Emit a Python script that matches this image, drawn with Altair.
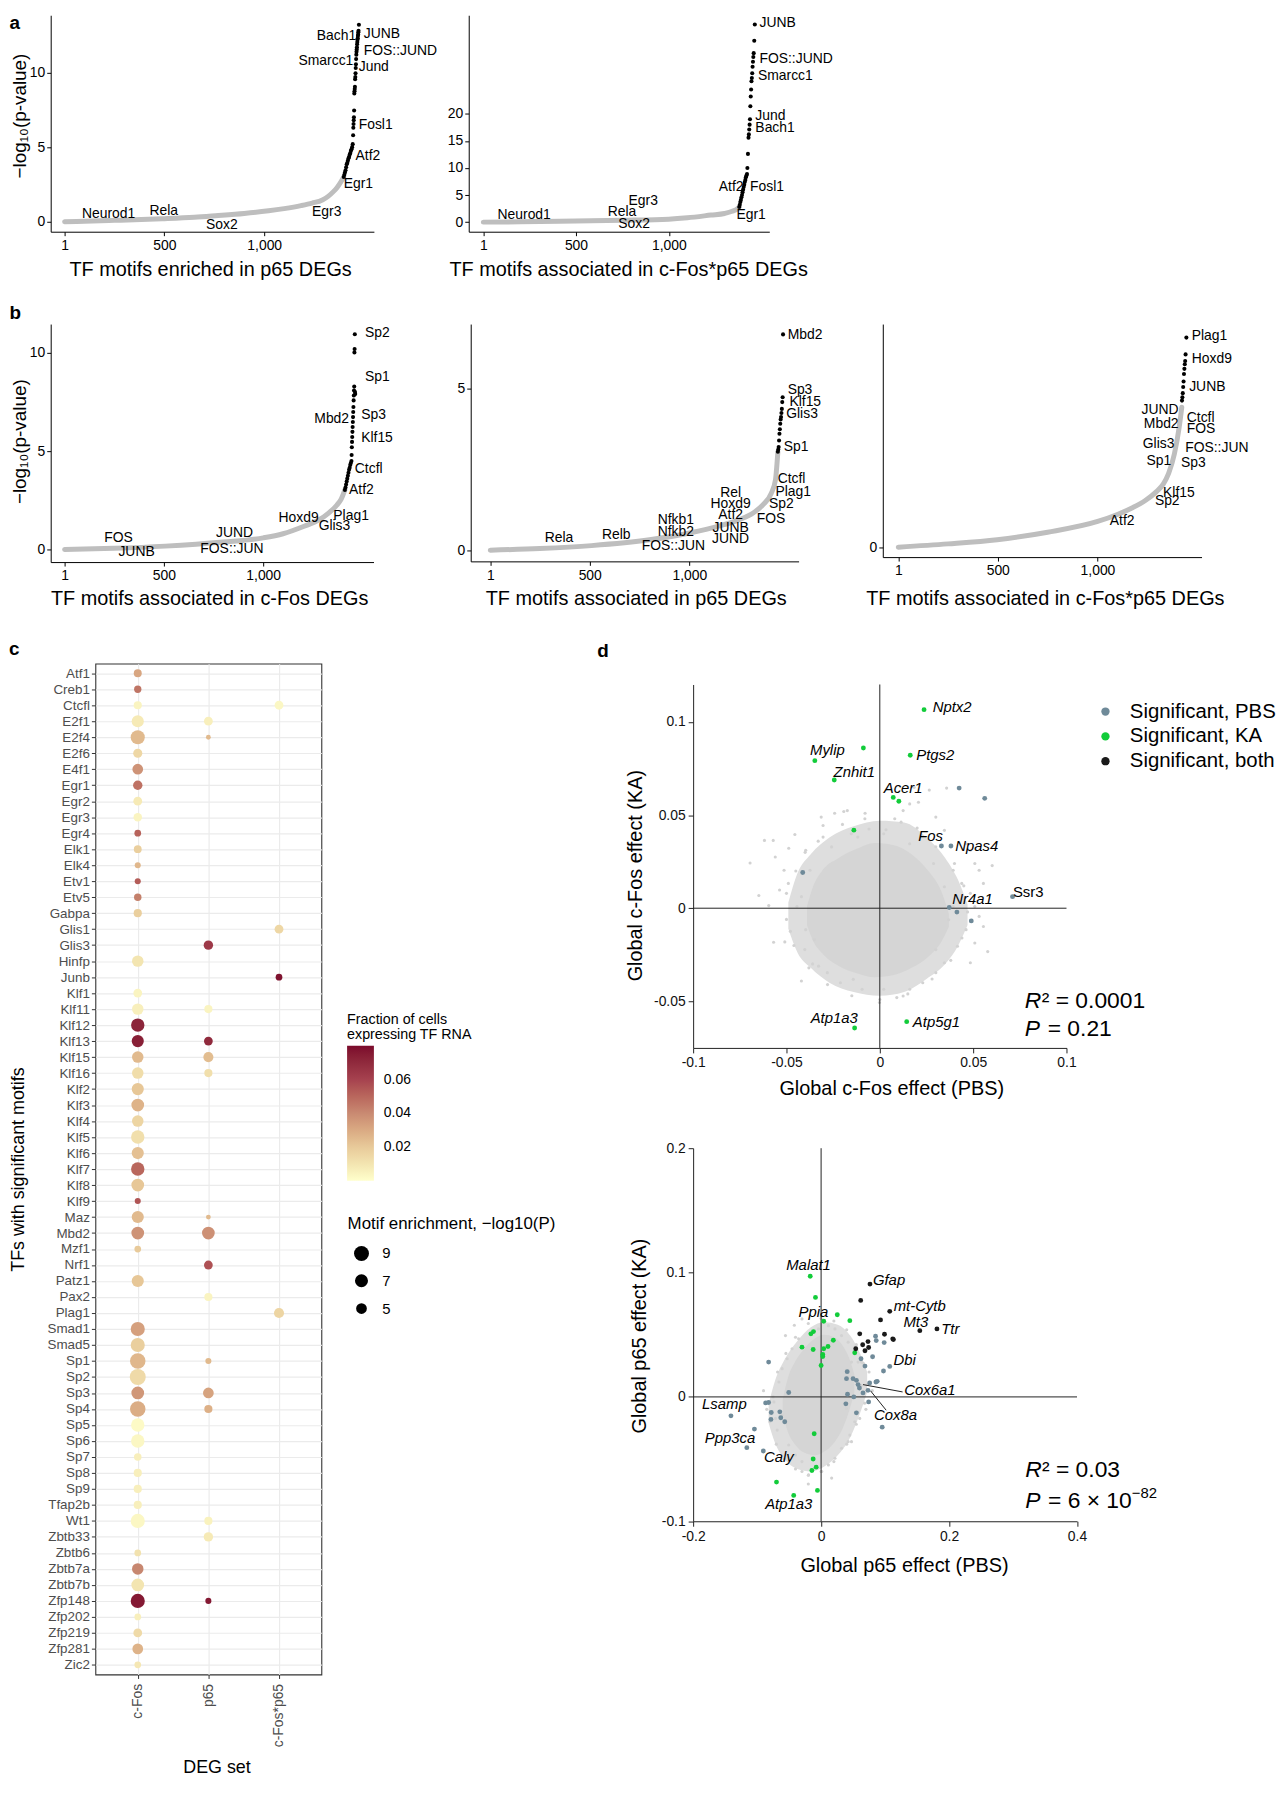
import altair as alt
import pandas as pd

FONT = "Liberation Sans"
BLACK = "#000000"

# ---------------- panel a (left): TF motifs enriched in p65 DEGs ----------------
a1_curve_rank = [1, 100, 250, 489, 650, 756, 900, 1022, 1100, 1184, 1240, 1291, 1320, 1345, 1365, 1385, 1398]
a1_curve_val = [0.0, 0.03, 0.09, 0.2, 0.3, 0.4, 0.55, 0.73, 0.88, 1.08, 1.25, 1.46, 1.7, 2.0, 2.3, 2.7, 3.0]
a1_sig_rank = [1398, 1401, 1404, 1407, 1410, 1413, 1416, 1419, 1422, 1425, 1428, 1431, 1434, 1437, 1440, 1443,
               1445, 1446, 1447, 1448, 1449, 1450, 1451, 1452, 1453, 1454, 1455, 1456, 1457, 1458, 1459, 1460,
               1461, 1462, 1463, 1464, 1465, 1466, 1467, 1468, 1469, 1470, 1471, 1472, 1474]
a1_sig_val = [3.0, 3.15, 3.3, 3.45, 3.65, 3.85, 3.95, 4.1, 4.25, 4.35, 4.5, 4.6, 4.75, 4.85, 5.0, 5.2,
              5.8, 6.3, 6.55, 6.8, 7.0, 7.45, 8.6, 8.75, 8.9, 9.05, 9.55, 9.7, 9.95, 10.3, 10.55, 10.9,
              11.2, 11.4, 11.55, 11.7, 11.9, 12.05, 12.2, 12.3, 12.45, 12.55, 12.7, 12.8, 13.2]
a1_lab = ["Bach1", "JUNB", "FOS::JUND", "Smarcc1", "Jund", "Fosl1", "Atf2", "Egr1", "Egr3", "Neurod1", "Rela", "Sox2"]
a1_lab_rank = [1460, 1498, 1498, 1446, 1473, 1473, 1457, 1398, 1313, 221, 497, 788]
a1_lab_val = [12.44, 12.55, 11.44, 10.78, 10.4, 6.45, 4.41, 2.53, 0.62, 0.53, 0.69, -0.25]
a1_lab_align = ["right", "left", "left", "right", "left", "left", "left", "left", "center", "center", "center", "center"]

# ---------------- panel a (right): c-Fos*p65 DEGs ----------------
a2_curve_rank = [1, 200, 500, 750, 999, 1100, 1227, 1300, 1341, 1370, 1379]
a2_curve_val = [0.0, 0.05, 0.2, 0.35, 0.55, 0.8, 1.3, 1.6, 2.0, 2.5, 2.8]
a2_sig_rank = [1379, 1382, 1385, 1388, 1391, 1394, 1397, 1400, 1403, 1406, 1409, 1412, 1415, 1418, 1421,
               1423, 1426, 1429, 1431, 1433, 1435, 1437, 1439, 1441, 1443, 1445, 1447, 1449, 1451, 1453,
               1455, 1457, 1460, 1463]
a2_sig_val = [2.8, 3.2, 3.7, 4.1, 4.6, 5.0, 5.5, 6.0, 6.5, 6.9, 7.4, 7.8, 8.3, 8.6, 8.9,
              10.0, 12.6, 15.6, 16.2, 17.1, 18.0, 19.0, 21.4, 23.2, 24.5, 26.0, 26.6, 27.5, 28.7, 29.6,
              30.5, 31.2, 33.5, 36.5]
a2_lab = ["JUNB", "FOS::JUND", "Smarcc1", "Jund", "Bach1", "Atf2", "Fosl1", "Egr1", "Egr3", "Rela", "Sox2", "Neurod1"]
a2_lab_rank = [1488, 1488, 1480, 1466, 1466, 1402, 1437, 1364, 862, 748, 813, 221]
a2_lab_val = [36.8, 30.2, 26.9, 19.6, 17.4, 6.46, 6.46, 1.28, 3.84, 1.9, -0.44, 1.28]
a2_lab_align = ["left", "left", "left", "left", "left", "right", "left", "left", "center", "center", "center", "center"]

# ---------------- panel b (left): c-Fos DEGs ----------------
b1_curve_rank = [1, 250, 507, 800, 1000, 1100, 1206, 1280, 1329, 1370, 1391, 1411]
b1_curve_val = [0.0, 0.06, 0.17, 0.38, 0.59, 0.8, 1.18, 1.5, 1.85, 2.25, 2.53, 3.03]
b1_sig_rank = [1411, 1414, 1417, 1420, 1423, 1426, 1429, 1432, 1435, 1438, 1441, 1444,
               1445, 1446, 1447, 1448, 1449, 1450, 1451, 1452, 1453, 1454, 1455, 1456, 1457, 1458,
               1459, 1460, 1461, 1462, 1463]
b1_sig_val = [3.03, 3.15, 3.3, 3.45, 3.6, 3.75, 3.9, 4.05, 4.15, 4.3, 4.4, 4.5,
              4.8, 5.2, 5.47, 5.72, 5.98, 6.23, 6.48, 6.73, 6.99, 7.24, 7.58, 7.83, 8.08, 8.28,
              10.02, 10.19, 10.94, 8.0, 7.9]
b1_lab = ["Sp2", "Sp1", "Sp3", "Mbd2", "Klf15", "Ctcfl", "Atf2", "Hoxd9", "Plag1", "Glis3", "JUND", "FOS::JUN", "FOS", "JUNB"]
b1_lab_rank = [1512, 1512, 1493, 1432, 1493, 1461, 1432, 1279, 1353, 1279, 856, 843, 272, 363]
b1_lab_val = [11.02, 8.79, 6.82, 6.65, 5.69, 4.07, 3.03, 1.58, 1.72, 1.18, 0.84, 0.03, 0.56, -0.12]
b1_lab_align = ["left", "left", "left", "right", "left", "left", "left", "right", "left", "left", "center", "center", "center", "center"]

# ---------------- panel b (middle): p65 DEGs ----------------
b2_curve_rank = [1, 250, 509, 800, 1001, 1150, 1247, 1320, 1370, 1410, 1432, 1444]
b2_curve_val = [0.0, 0.05, 0.14, 0.32, 0.53, 0.75, 0.94, 1.15, 1.41, 1.75, 2.18, 3.05]
b2_sig_rank = [1444, 1446, 1448, 1450, 1452, 1454, 1456, 1458, 1460, 1462, 1464, 1466, 1468, 1470]
b2_sig_val = [3.05, 3.12, 3.2, 3.4, 3.61, 3.75, 3.92, 4.05, 4.13, 4.25, 4.38, 4.59, 4.74, 6.69]
b2_lab = ["Mbd2", "Sp3", "Klf15", "Glis3", "Sp1", "Ctcfl", "Plag1", "Sp2", "FOS", "Rel", "Hoxd9", "Atf2", "JUNB",
          "JUND", "Nfkb1", "Nfkb2", "FOS::JUN", "Rela", "Relb"]
b2_lab_rank = [1493, 1493, 1502, 1486, 1473, 1443, 1432, 1400, 1338, 1207, 1207, 1207, 1207, 1207, 932, 932, 920, 346, 633]
b2_lab_val = [6.67, 4.97, 4.59, 4.21, 3.21, 2.21, 1.80, 1.44, 0.98, 1.77, 1.44, 1.09, 0.69, 0.35, 0.92, 0.56, 0.12, 0.38, 0.48]
b2_lab_align = ["left"] * 9 + ["center"] * 10

# ---------------- panel b (right): c-Fos*p65 DEGs ----------------
b3_curve_rank = [1, 250, 497, 750, 1001, 1100, 1173, 1240, 1296, 1330, 1357, 1386, 1410, 1423]
b3_curve_val = [0.0, 0.07, 0.16, 0.32, 0.55, 0.7, 0.84, 1.0, 1.19, 1.35, 1.58, 2.0, 2.57, 3.0]
b3_sig_rank = [1424, 1426, 1428, 1430, 1432, 1434, 1436, 1438, 1440, 1442, 1446]
b3_sig_val = [3.14, 3.21, 3.3, 3.43, 3.55, 3.71, 3.82, 3.92, 3.99, 4.13, 4.49]
b3_lab = ["Plag1", "Hoxd9", "JUNB", "JUND", "Mbd2", "Ctcfl", "FOS", "Glis3", "FOS::JUN", "Sp1", "Sp3", "Klf15", "Sp2", "Atf2"]
b3_lab_rank = [1473, 1473, 1460, 1407, 1407, 1448, 1448, 1386, 1440, 1370, 1419, 1329, 1288, 1124]
b3_lab_val = [4.53, 4.03, 3.44, 2.93, 2.63, 2.77, 2.53, 2.21, 2.13, 1.84, 1.80, 1.16, 0.98, 0.57]
b3_lab_align = ["left", "left", "left", "right", "right", "left", "left", "right", "left", "right", "left", "left", "left", "center"]

# ---------------- panel c: dot plot ----------------
c_sets = ["c-Fos", "p65", "c-Fos*p65"]
c_tfs = ["Atf1", "Creb1", "Ctcfl", "E2f1", "E2f4", "E2f6", "E4f1", "Egr1", "Egr2", "Egr3", "Egr4", "Elk1", "Elk4",
         "Etv1", "Etv5", "Gabpa", "Glis1", "Glis3", "Hinfp", "Junb", "Klf1", "Klf11", "Klf12", "Klf13", "Klf15",
         "Klf16", "Klf2", "Klf3", "Klf4", "Klf5", "Klf6", "Klf7", "Klf8", "Klf9", "Maz", "Mbd2", "Mzf1", "Nrf1",
         "Patz1", "Pax2", "Plag1", "Smad1", "Smad5", "Sp1", "Sp2", "Sp3", "Sp4", "Sp5", "Sp6", "Sp7", "Sp8", "Sp9",
         "Tfap2b", "Wt1", "Zbtb33", "Zbtb6", "Zbtb7a", "Zbtb7b", "Zfp148", "Zfp202", "Zfp219", "Zfp281", "Zic2"]
cfos_tf = ["Atf1", "Creb1", "Ctcfl", "E2f1", "E2f4", "E2f6", "E4f1", "Egr1", "Egr2", "Egr3", "Egr4", "Elk1", "Elk4",
           "Etv1", "Etv5", "Gabpa", "Hinfp", "Klf1", "Klf11", "Klf12", "Klf13", "Klf15", "Klf16", "Klf2", "Klf3",
           "Klf4", "Klf5", "Klf6", "Klf7", "Klf8", "Klf9", "Maz", "Mbd2", "Mzf1", "Patz1", "Smad1", "Smad5", "Sp1",
           "Sp2", "Sp3", "Sp4", "Sp5", "Sp6", "Sp7", "Sp8", "Sp9", "Tfap2b", "Wt1", "Zbtb6", "Zbtb7a", "Zbtb7b",
           "Zfp148", "Zfp202", "Zfp219", "Zfp281", "Zic2"]
cfos_enr = [3.1, 2.7, 3.2, 6.2, 8.1, 3.8, 5.0, 4.0, 3.6, 3.4, 2.4, 3.0, 2.1, 2.1, 2.8, 3.2,
            5.6,
            3.6, 5.6, 7.4, 6.2, 5.6, 5.6, 6.2, 6.7, 5.6, 7.4, 6.2, 7.4, 6.7, 2.1,
            6.2, 6.7, 2.4, 6.2,
            8.1, 8.1,
            9.6, 10.2, 6.7, 9.6, 7.4, 7.4, 2.8, 3.2, 3.2,
            3.2, 8.1,
            2.4, 5.6, 6.7,
            8.1, 2.4, 3.6, 5.0,
            2.4]
cfos_frac = [0.031, 0.046, 0.004, 0.008, 0.025, 0.015, 0.037, 0.047, 0.008, 0.004, 0.051, 0.018, 0.026, 0.053, 0.043, 0.018,
             0.010,
             0.004, 0.006, 0.072, 0.074, 0.025, 0.013, 0.021, 0.027, 0.016, 0.012, 0.023, 0.050, 0.021, 0.055,
             0.025, 0.037, 0.020, 0.021,
             0.033, 0.018,
             0.026, 0.014, 0.036, 0.029, 0.002, 0.003, 0.006, 0.006, 0.006,
             0.006, 0.003,
             0.011, 0.041, 0.010,
             0.076, 0.006, 0.014, 0.027,
             0.009]
p65_tf = ["E2f1", "E2f4", "Glis3", "Klf11", "Klf13", "Klf15", "Klf16", "Maz", "Mbd2", "Nrf1", "Pax2", "Sp1", "Sp3",
          "Sp4", "Wt1", "Zbtb33", "Zfp148"]
p65_enr = [3.6, 1.6, 4.0, 3.2, 3.6, 4.5, 3.2, 1.6, 6.7, 3.6, 3.2, 2.1, 5.0, 3.2, 3.2, 4.0, 2.1]
p65_frac = [0.006, 0.025, 0.064, 0.004, 0.070, 0.024, 0.012, 0.025, 0.038, 0.056, 0.004, 0.025, 0.032, 0.028, 0.005, 0.008, 0.076]
combo_tf = ["Ctcfl", "Glis1", "Junb", "Plag1"]
combo_enr = [3.6, 3.6, 2.4, 4.5]
combo_frac = [0.003, 0.015, 0.078, 0.016]
frac_stops = [0.0, 0.02, 0.04, 0.06, 0.08]
frac_colors = ["#FFFFCC", "#E8CA9A", "#C98A72", "#A6424F", "#7B0B2C"]

# ---------------- panel d (top): global c-Fos effect ----------------
STATUS = ["Significant, PBS", "Significant, KA", "Significant, both"]
STATUS_COL = ["#6F8A99", "#12CC3A", "#1A1A1A"]
d1_sig_x = [0.0237, -0.0088, -0.0348, 0.0163, -0.0244, 0.0072, 0.0102, -0.0139, -0.0135, 0.0144,
            0.0425, 0.0562, 0.033, 0.0381, -0.0413, 0.0711, 0.0372, 0.0413, 0.049]
d1_sig_y = [0.1066, 0.086, 0.0792, 0.0821, 0.0688, 0.0595, 0.0574, 0.0419, -0.0643, -0.0609,
            0.0645, 0.059, 0.0334, 0.0334, 0.0192, 0.0062, 0.0004, -0.0021, -0.0068]
d1_sig_status = ["Significant, KA"] * 10 + ["Significant, PBS"] * 9
d1_core_x = [-0.039, -0.036, -0.031, -0.022, -0.012, -0.003, 0.007, 0.017, 0.026, 0.033, 0.037]
d1_core_hi = [0.001, 0.011, 0.020, 0.027, 0.032, 0.035, 0.034, 0.029, 0.020, 0.009, -0.003]
d1_core_lo = [-0.009, -0.017, -0.024, -0.031, -0.035, -0.037, -0.036, -0.032, -0.026, -0.018, -0.010]
d1_halo_x = [-0.049, -0.044, -0.037, -0.027, -0.014, 0.0, 0.013, 0.025, 0.035, 0.042, 0.047]
d1_halo_hi = [0.003, 0.019, 0.029, 0.038, 0.044, 0.047, 0.046, 0.038, 0.027, 0.015, 0.002]
d1_halo_lo = [-0.011, -0.024, -0.032, -0.040, -0.045, -0.047, -0.045, -0.038, -0.030, -0.020, -0.009]
d1_bg_x = [-0.0695, -0.0618, -0.0571, -0.056, -0.0648, -0.0595, -0.0569, -0.0509, -0.0488, -0.0455, -0.049, -0.0479,
           -0.042, -0.0402, -0.036, -0.0314, -0.0304, -0.0242, -0.0193, -0.0174, -0.0153, -0.0079, -0.0058, 0.0033,
           0.0114, 0.0125, 0.016, 0.0207, 0.03, 0.0346, 0.0358, 0.0265, 0.0184, 0.0462, 0.0485, 0.0509, 0.0532,
           0.0555, 0.0602, 0.0485, 0.0509, 0.0532, 0.0555, 0.0509, 0.0578, 0.0485, 0.0416, 0.0462, 0.0346, 0.03,
           0.023, 0.016, 0.0125, 0.0091, -0.0002, -0.0095, -0.0142, -0.0211, -0.0281, -0.0328, -0.0397, -0.0444,
           -0.0537, -0.0513, -0.0397, -0.0304, 0.0393, 0.0439, 0.0393, 0.0369, 0.03, 0.0021, -0.0351, -0.042,
           -0.0374, -0.0258, -0.0118, 0.0021, 0.016, 0.0288, 0.0346,
           -0.045, -0.04, -0.033, -0.02, -0.008, 0.008, 0.02, 0.03, 0.04, 0.045, 0.047, 0.044, 0.038, 0.028,
           0.015, 0.0, -0.015, -0.028, -0.038, -0.046, -0.05, -0.05]
d1_bg_y = [0.0243, 0.0364, 0.0364, 0.0275, 0.0068, 0.0014, -0.0183, -0.0181, 0.0322, 0.0396, 0.0133, -0.0124,
           -0.0391, -0.0222, -0.0299, 0.0489, 0.0444, 0.051, 0.0519, 0.0524, 0.04, 0.051, 0.0425, 0.0421,
           0.0462, 0.0524, 0.056, 0.0569, 0.0489, 0.0418, 0.0645, 0.0634, 0.0649, 0.0346, 0.0311, 0.024, 0.0204,
           0.0133, 0.0229, 0.008, 0.0009, -0.0044, -0.0098, -0.0187, -0.0233, -0.0293, -0.0204, -0.0115, -0.0293, -0.0346,
           -0.04, -0.0435, -0.0471, -0.048, -0.0506, -0.0435, -0.0382, -0.04, -0.0346, -0.0311, -0.0115, 0.0009,
           0.0098, 0.0204, 0.0311, 0.0382, 0.0204, 0.0133, 0.0009, -0.0062, -0.0222, -0.0435, -0.0169, 0.0062,
           0.0204, 0.0329, 0.0382, 0.04, 0.0346, 0.024, 0.0115,
           0.02, 0.03, 0.036, 0.045, 0.048, 0.048, 0.043, 0.033, 0.024, 0.012, -0.002, -0.016, -0.028, -0.038,
           -0.046, -0.049, -0.047, -0.041, -0.032, -0.02, -0.006, 0.008]
d1_lab = ["Nptx2", "Mylip", "Ptgs2", "Znhit1", "Acer1", "Fos", "Npas4", "Nr4a1", "Atp1a3", "Atp5g1"]
d1_lab_x = [0.0283, -0.0281, 0.0195, -0.0137, 0.0125, 0.0272, 0.0404, 0.0388, -0.0244, 0.0177]
d1_lab_y = [0.1079, 0.0848, 0.0821, 0.0732, 0.0643, 0.0387, 0.0334, 0.0048, -0.0592, -0.0609]
d1_lab_align = ["left", "center", "left", "center", "center", "center", "left", "left", "center", "left"]
d1_plain_lab = ["Ssr3"]
d1_plain_x = [0.0713]
d1_plain_y = [0.0085]
d1_stat_text = ["R", "\u00b2 = 0.0001", "P", "= 0.21"]
d1_stat_x = [0.0777, 0.0777, 0.0777, 0.0777]
d1_stat_y = [-0.0537, -0.0537, -0.0686, -0.0686]

# ---------------- panel d (bottom): global p65 effect ----------------
d2_sig_x = ([0.0851, 0.0862, 0.0986, 0.0805, 0.0624, 0.0686, 0.1073, 0.0975, 0.0877, 0.0857, 0.0759, 0.0408, 0.0397,
             0.05, 0.0552, 0.0578, 0.0599, 0.0655, 0.0733, 0.0413, 0.0511, 0.0387, 0.0552, 0.0743, 0.0955, -0.082,
             -0.0506, -0.0867, -0.082, -0.0779, -0.0645, -0.0784, -0.063, -0.0568, -0.1409, -0.1042, -0.1161, -0.0903]
            + [-0.017, -0.0088, 0.0253, 0.0041, 0.0449, -0.0119, -0.016, 0.0191, -0.0299, -0.0124, 0.0108, 0.0041,
               0.0026, 0.0026, 0.0, 0.0526, -0.0108, -0.0124, -0.0077, -0.0144, -0.0697, -0.0057, -0.0428]
            + [0.0764, 0.0619, 0.1073, 0.0929, 0.1543, 0.1811, 0.0604, 0.0991, 0.112, 0.113, 0.065, 0.0733, 0.0542,
               0.0743, 0.0686])
d2_sig_y = ([0.0488, 0.0453, 0.0437, 0.0323, 0.0307, 0.0248, 0.0245, 0.0208, 0.0125, 0.012, 0.0112, 0.0203, 0.0147,
             0.0147, 0.0133, 0.0099, 0.0072, 0.0032, 0.0053, 0.0021, 0.0, -0.0056, -0.0128, -0.004, -0.0243, 0.028,
             0.0035, -0.0048, -0.0045, -0.0125, -0.012, -0.0181, -0.0168, -0.02, -0.0152, -0.0259, -0.0408, -0.0435]
            + [0.097, 0.08, 0.0661, 0.0608, 0.0613, 0.0525, 0.0507, 0.0456, 0.04, 0.0381, 0.0405, 0.0387, 0.0341,
               0.0325, 0.0253, 0.0355, -0.0296, -0.0499, -0.0565, -0.0592, -0.0685, -0.0752, -0.0792]
            + [0.0907, 0.0776, 0.0688, 0.0619, 0.0533, 0.0547, 0.0507, 0.0504, 0.0467, 0.0461, 0.0419, 0.0445, 0.0387,
               0.0397, 0.0371])
d2_sig_status = ["Significant, PBS"] * 38 + ["Significant, KA"] * 23 + ["Significant, both"] * 15
d2_core_x = [-0.060, -0.052, -0.041, -0.026, -0.010, 0.005, 0.020, 0.034, 0.044, 0.052]
d2_core_hi = [-0.002, 0.015, 0.028, 0.039, 0.047, 0.050, 0.048, 0.041, 0.031, 0.018]
d2_core_lo = [-0.013, -0.028, -0.038, -0.045, -0.047, -0.044, -0.037, -0.025, -0.011, 0.004]
d2_halo_x = [-0.082, -0.072, -0.057, -0.037, -0.016, 0.005, 0.026, 0.046, 0.061, 0.072]
d2_halo_hi = [-0.006, 0.013, 0.030, 0.045, 0.056, 0.060, 0.058, 0.049, 0.035, 0.020]
d2_halo_lo = [-0.021, -0.037, -0.050, -0.058, -0.060, -0.056, -0.047, -0.032, -0.013, 0.004]
d2_bg_x = [-0.0418, -0.0299, 0.0114, 0.0217, 0.032, 0.0423, 0.0578, 0.0604, 0.0526, 0.0423, 0.032, 0.0217, 0.0114,
           -0.0196, -0.0299, -0.0402, -0.0506, -0.0686, -0.0712, -0.0738, -0.066, -0.0609, -0.0531, -0.0454, -0.0351,
           -0.0144, -0.0041, 0.0449, 0.0475, 0.063, 0.0475, 0.0397, -0.0557, -0.0609, -0.0299, 0.001, 0.0165, 0.063,
           0.075, 0.08, 0.07, -0.085, -0.09, 0.0, -0.02,
           -0.08, -0.075, -0.068, -0.055, -0.04, -0.02, 0.0, 0.02, 0.04, 0.055, 0.066, 0.072, 0.068, 0.055, 0.04,
           0.02, 0.0, -0.02, -0.04, -0.058, -0.07]
d2_bg_y = [0.0576, 0.0627, 0.0573, 0.0547, 0.0493, 0.044, 0.028, -0.0173, -0.02, -0.036, -0.0413, -0.0493, -0.0547,
           -0.0627, -0.052, -0.0467, -0.0387, -0.0267, -0.0173, -0.004, 0.012, 0.0227, 0.0307, 0.0387, 0.0467,
           0.052, 0.0547, -0.0307, 0.028, 0.0093, -0.036, -0.0093, 0.0493, -0.0147, -0.06, -0.06, -0.0653, 0.028,
           0.02, 0.005, -0.01, -0.01, 0.005, 0.065, -0.07,
           -0.02, 0.0, 0.02, 0.035, 0.048, 0.059, 0.063, 0.061, 0.054, 0.042, 0.027, 0.01, -0.005, -0.022, -0.038,
           -0.052, -0.06, -0.063, -0.058, -0.05, -0.038]
d2_lab = ["Malat1", "Gfap", "mt-Cytb", "Mt3", "Ttr", "Ppia", "Dbi", "Cox6a1", "Cox8a", "Lsamp", "Ppp3ca", "Caly", "Atp1a3"]
d2_lab_x = [-0.0196, 0.081, 0.1135, 0.1481, 0.1878, -0.0119, 0.113, 0.13, 0.0826, -0.1512, -0.1424, -0.066, -0.0506]
d2_lab_y = [0.1059, 0.0941, 0.0733, 0.0605, 0.0547, 0.068, 0.0299, 0.0059, -0.0147, -0.0061, -0.0333, -0.0485, -0.0861]
d2_lab_align = ["center", "left", "left", "center", "left", "center", "left", "left", "left", "center", "center", "center", "center"]
d2_lead_x = [0.0655, 0.0774]
d2_lead_y = [0.0099, 0.0048]
d2_lead_x2 = [0.1274, 0.1017]
d2_lead_y2 = [0.004, -0.0107]
d2_stat_text = ["R", "\u00b2 = 0.03", "P", "= 6 \u00d7 10", "\u221282"]
d2_stat_x = [0.3189, 0.3189, 0.3189, 0.3189, 0.3189]
d2_stat_y = [-0.0646, -0.0646, -0.0893, -0.0893, -0.0893]


# =============================== helpers ===============================
def rank_x(dom, title, tx, ty):
    return alt.X("x:Q", scale=alt.Scale(domain=dom, nice=False, zero=False),
                 axis=alt.Axis(values=[1, 500, 1000], labelExpr="format(datum.value, ',')",
                               title=title, titleX=tx, titleY=ty, titleAlign="center",
                               titleBaseline="alphabetic", titleFontSize=20, titleFontWeight="normal",
                               titleFont=FONT, titleColor=BLACK, labelFont=FONT, labelFontSize=14,
                               labelColor=BLACK, labelPadding=3, domainColor=BLACK, domainWidth=1,
                               tickColor=BLACK, tickSize=4, tickWidth=1, grid=False,
                               labelOverlap=False, labelFlush=False))


def pval_y(dom, values, title=None, tx=0, ty=0):
    kw = dict(values=values, format="d", labelFont=FONT, labelFontSize=14, labelColor=BLACK, labelPadding=2,
              domainColor=BLACK, domainWidth=1, tickColor=BLACK, tickSize=4, tickWidth=1, grid=False,
              labelOverlap=False, labelFlush=False)
    if title:
        kw.update(title=title, titleX=tx, titleY=ty, titleAngle=270, titleAlign="center",
                  titleBaseline="alphabetic", titleFontSize=19, titleFontWeight="normal",
                  titleFont=FONT, titleColor=BLACK)
    else:
        kw.update(title=None)
    return alt.Y("y:Q", scale=alt.Scale(domain=dom, nice=False, zero=False), axis=alt.Axis(**kw))


EFF_EXPR = "datum.value < 0 ? '-' + format(-datum.value, '~g') : format(datum.value, '~g')"


def eff_axis(values, title, tx, ty, vertical):
    kw = dict(values=values, labelExpr=EFF_EXPR, title=title, titleX=tx, titleY=ty, titleAlign="center",
              titleBaseline="alphabetic", titleFontSize=20, titleFontWeight="normal", titleFont=FONT,
              titleColor=BLACK, labelFont=FONT, labelFontSize=14, labelColor="#111111", labelPadding=3,
              domainColor="#222222", domainWidth=1, tickColor="#222222", tickSize=5, tickWidth=1,
              grid=False, labelOverlap=False, labelFlush=False)
    if vertical:
        kw.update(titleAngle=270)
    return alt.Axis(**kw)


def letter(t, dx, dy):
    return alt.TitleParams(text=t, anchor="start", frame="group", orient="top", offset=0, dx=dx, dy=dy,
                           font=FONT, fontSize=19, fontWeight="bold", color=BLACK, baseline="alphabetic")


def text_layers(lab, lx, ly, la, xenc, yenc, size=14, style="normal"):
    df = pd.DataFrame({"x": lx, "y": ly, "label": lab, "align": la})
    out = []
    for al in ("left", "center", "right"):
        sub = df[df["align"] == al]
        if len(sub):
            out.append(alt.Chart(sub).mark_text(align=al, baseline="middle", font=FONT, fontSize=size,
                                                fontStyle=style, color=BLACK)
                       .encode(x=xenc, y=yenc, text="label:N"))
    return out


def curve_panel(cr, cv, sr, sv, lab, lr, lv, la, xenc, yenc, w, h, title=None):
    line = alt.Chart(pd.DataFrame({"x": cr, "y": cv})).mark_line(
        color="#BEBEBE", strokeWidth=5, strokeCap="round", interpolate="monotone").encode(x=xenc, y=yenc)
    pts = alt.Chart(pd.DataFrame({"x": sr, "y": sv})).mark_circle(
        color=BLACK, size=17, opacity=1).encode(x=xenc, y=yenc)
    ch = alt.layer(line, pts, *text_layers(lab, lr, lv, la, xenc, yenc)).properties(width=w, height=h)
    if title is not None:
        ch = ch.properties(title=title)
    return ch


def sp(w, h):
    return alt.Chart(alt.Data(values=[])).mark_point(opacity=0).encode(
        x=alt.X("v:Q", axis=None), y=alt.Y("v:Q", axis=None)).properties(width=w, height=h)


# =============================== panel a ===============================
A1 = curve_panel(a1_curve_rank, a1_curve_val, a1_sig_rank, a1_sig_val, a1_lab, a1_lab_rank, a1_lab_val, a1_lab_align,
                 rank_x([-68.6, 1549], "TF motifs enriched in p65 DEGs", 160.5, 44.5),
                 pval_y([-0.67, 13.84], [0, 5, 10], "\u2212log\u2081\u2080(p-value)", -25.7, 101),
                 325.5, 218, letter("a", -41.5, 33))
A2 = curve_panel(a2_curve_rank, a2_curve_val, a2_sig_rank, a2_sig_val, a2_lab, a2_lab_rank, a2_lab_val, a2_lab_align,
                 rank_x([-77.6, 1541], "TF motifs associated in c-Fos*p65 DEGs", 160.5, 44.5),
                 pval_y([-1.77, 38.2], [0, 5, 10, 15, 20]),
                 302.7, 218)

# =============================== panel b ===============================
B1 = curve_panel(b1_curve_rank, b1_curve_val, b1_sig_rank, b1_sig_val, b1_lab, b1_lab_rank, b1_lab_val, b1_lab_align,
                 rank_x([-68.9, 1555], "TF motifs associated in c-Fos DEGs", 159.6, 42.3),
                 pval_y([-0.64, 11.46], [0, 5, 10], "\u2212log\u2081\u2080(p-value)", -25.6, 118),
                 325.1, 239.7, letter("b", -41.4, 13.5))
B2 = curve_panel(b2_curve_rank, b2_curve_val, b2_sig_rank, b2_sig_val, b2_lab, b2_lab_rank, b2_lab_val, b2_lab_align,
                 rank_x([-97.2, 1548], "TF motifs associated in p65 DEGs", 166.2, 43),
                 pval_y([-0.348, 7.01], [0, 5, 10]),
                 330.2, 239)
B3 = curve_panel(b3_curve_rank, b3_curve_val, b3_sig_rank, b3_sig_val, b3_lab, b3_lab_rank, b3_lab_val, b3_lab_align,
                 rank_x([-76.7, 1522], "TF motifs associated in c-Fos*p65 DEGs", 163.2, 47.3),
                 pval_y([-0.213, 4.78], [0, 5, 10]),
                 321, 234.7)

# =============================== panel c ===============================
c_df = pd.DataFrame({
    "tf": cfos_tf + p65_tf + combo_tf,
    "set": ["c-Fos"] * len(cfos_tf) + ["p65"] * len(p65_tf) + ["c-Fos*p65"] * len(combo_tf),
    "enr": cfos_enr + p65_enr + combo_enr,
    "frac": cfos_frac + p65_frac + combo_frac,
})
C = alt.Chart(c_df).mark_circle(opacity=1).encode(
    x=alt.X("set:N", scale=alt.Scale(domain=c_sets, type="point", padding=0.6),
            axis=alt.Axis(labelAngle=270, labelFont=FONT, labelFontSize=14, labelColor="#4D4D4D",
                          labelPadding=5, tickColor="#333333", tickSize=4, domain=False, grid=True,
                          gridColor="#EBEBEB", gridWidth=1.2, title="DEG set", titleX=122, titleY=98.3,
                          titleAlign="center", titleBaseline="alphabetic", titleFont=FONT, titleFontSize=18,
                          titleFontWeight="normal", titleColor=BLACK)),
    y=alt.Y("tf:N", scale=alt.Scale(domain=c_tfs, type="point", padding=0.6),
            axis=alt.Axis(labelFont=FONT, labelFontSize=13.5, labelColor="#4D4D4D", labelPadding=2,
                          tickColor="#333333", tickSize=4, domain=False, grid=True, gridColor="#EBEBEB",
                          gridWidth=1.2, labelOverlap=False, title="TFs with significant motifs",
                          titleX=-72.5, titleY=509, titleAngle=270, titleAlign="center",
                          titleBaseline="alphabetic", titleFont=FONT, titleFontSize=18,
                          titleFontWeight="normal", titleColor=BLACK)),
    color=alt.Color("frac:Q", scale=alt.Scale(domain=frac_stops, range=frac_colors),
                    legend=alt.Legend(orient="none", legendX=253.5, legendY=352,
                                      title=["Fraction of cells", "expressing TF RNA"], titleFont=FONT,
                                      titleFontSize=14.4, titleFontWeight="normal", titleColor=BLACK,
                                      titleLineHeight=15.5, titlePadding=3, titleAlign="left", titleLimit=400,
                                      gradientLength=136, gradientThickness=27, gradientStrokeWidth=0,
                                      values=[0.02, 0.04, 0.06], format=".2f", labelFont=FONT,
                                      labelFontSize=14, labelColor=BLACK, labelOffset=10,
                                      labelOverlap=False, direction="vertical", padding=0)),
    size=alt.Size("enr:Q", scale=alt.Scale(domain=[1, 10], range=[7, 254.6], zero=False),
                  legend=alt.Legend(orient="none", legendX=254, legendY=556,
                                    title="Motif enrichment, \u2212log10(P)", titleFont=FONT, titleFontSize=17,
                                    titleFontWeight="normal", titleColor=BLACK, titlePadding=13, titleLimit=400,
                                    values=[9, 7, 5], symbolType="circle", symbolFillColor=BLACK,
                                    symbolStrokeWidth=0, symbolOpacity=1, symbolOffset=6, labelFont=FONT,
                                    labelFontSize=15, labelColor=BLACK, labelOffset=13, rowPadding=12,
                                    padding=0)),
).properties(width=227.6, height=1018, title=letter("c", -87, 10),
             view=alt.ViewBackground(stroke="#333333", strokeWidth=1.1))


# =============================== panel d ===============================
def effect_panel(xenc, yenc, halo, core, bg, sig, labs, plain, stats, w, h, legend, lead=None, title=None):
    layers = []
    layers.append(alt.Chart(pd.DataFrame({"x": halo[0], "y": halo[1], "y2": halo[2]})).mark_area(
        color="#DEDEDE", interpolate="monotone").encode(x=xenc, y=yenc, y2=alt.Y2("y2")))
    layers.append(alt.Chart(pd.DataFrame({"x": core[0], "y": core[1], "y2": core[2]})).mark_area(
        color="#D5D5D5", interpolate="monotone").encode(x=xenc, y=yenc, y2=alt.Y2("y2")))
    layers.append(alt.Chart(pd.DataFrame({"x": bg[0], "y": bg[1]})).mark_circle(
        color="#D2D2D2", size=10, opacity=1).encode(x=xenc, y=yenc))
    layers.append(alt.Chart(pd.DataFrame({"x": [0.0]})).mark_rule(color="#222222", strokeWidth=1).encode(x=xenc))
    layers.append(alt.Chart(pd.DataFrame({"y": [0.0]})).mark_rule(color="#222222", strokeWidth=1).encode(y=yenc))
    if lead is not None:
        layers.append(alt.Chart(pd.DataFrame({"x": lead[0], "y": lead[1], "x2": lead[2], "y2": lead[3]}))
                      .mark_rule(color="#222222", strokeWidth=1)
                      .encode(x=xenc, y=yenc, x2=alt.X2("x2"), y2=alt.Y2("y2")))
    layers.append(alt.Chart(pd.DataFrame({"x": sig[0], "y": sig[1], "status": sig[2]})).mark_circle(
        size=24, opacity=1).encode(
        x=xenc, y=yenc,
        color=alt.Color("status:N", scale=alt.Scale(domain=STATUS, range=STATUS_COL), legend=legend)))
    layers += text_layers(labs[0], labs[1], labs[2], labs[3], xenc, yenc, size=15, style="italic")
    if plain is not None:
        layers += text_layers(plain[0], plain[1], plain[2], ["left"] * len(plain[0]), xenc, yenc, size=15)
    st_text, st_x, st_y, st_dx, st_size, st_style, st_dy = stats
    for i in range(len(st_text)):
        layers.append(alt.Chart(pd.DataFrame({"x": [st_x[i]], "y": [st_y[i]], "t": [st_text[i]]})).mark_text(
            align="left", baseline="alphabetic", font=FONT, fontSize=st_size[i], fontStyle=st_style[i],
            dx=st_dx[i], dy=st_dy[i], color=BLACK).encode(x=xenc, y=yenc, text="t:N"))
    ch = alt.layer(*layers).properties(width=w, height=h)
    if title is not None:
        ch = ch.properties(title=title)
    return ch


d1_x = alt.X("x:Q", scale=alt.Scale(domain=[-0.1, 0.1], nice=False, zero=False),
             axis=eff_axis([-0.1, -0.05, 0, 0.05, 0.1], "Global c-Fos effect (PBS)", 199.5, 47, False))
d1_y = alt.Y("y:Q", scale=alt.Scale(domain=[-0.075, 0.1201], nice=False, zero=False),
             axis=eff_axis([-0.05, 0, 0.05, 0.1], "Global c-Fos effect (KA)", -52.5, 192, True))
d1_legend = alt.Legend(orient="none", legendX=405, legendY=17, title=None, labelFont=FONT, labelFontSize=20.5,
                       labelColor=BLACK, symbolSize=70, symbolType="circle", symbolStrokeWidth=0, symbolOpacity=1,
                       rowPadding=4, labelOffset=14.3, padding=0)
D1 = effect_panel(d1_x, d1_y,
                  (d1_halo_x, d1_halo_hi, d1_halo_lo), (d1_core_x, d1_core_hi, d1_core_lo),
                  (d1_bg_x, d1_bg_y), (d1_sig_x, d1_sig_y, d1_sig_status),
                  (d1_lab, d1_lab_x, d1_lab_y, d1_lab_align), (d1_plain_lab, d1_plain_x, d1_plain_y),
                  (d1_stat_text, d1_stat_x, d1_stat_y, [0, 17, 0, 23], [23, 23, 23, 23],
                   ["italic", "normal", "italic", "normal"], [0, 0, 0, 0]),
                  376, 366, d1_legend, title=letter("d", -96.5, -8.5))

d2_x = alt.X("x:Q", scale=alt.Scale(domain=[-0.2, 0.4], nice=False, zero=False),
             axis=eff_axis([-0.2, 0, 0.2, 0.4], "Global p65 effect (PBS)", 212.3, 51, False))
d2_y = alt.Y("y:Q", scale=alt.Scale(domain=[-0.1, 0.2], nice=False, zero=False),
             axis=eff_axis([-0.1, 0, 0.1, 0.2], "Global p65 effect (KA)", -47.7, 188.7, True))
D2 = effect_panel(d2_x, d2_y,
                  (d2_halo_x, d2_halo_hi, d2_halo_lo), (d2_core_x, d2_core_hi, d2_core_lo),
                  (d2_bg_x, d2_bg_y), (d2_sig_x, d2_sig_y, d2_sig_status),
                  (d2_lab, d2_lab_x, d2_lab_y, d2_lab_align), None,
                  (d2_stat_text, d2_stat_x, d2_stat_y, [0, 17, 0, 23, 107.5], [23, 23, 23, 23, 15],
                   ["italic", "normal", "italic", "normal", "normal"], [0, 0, 0, 0, -10]),
                  386.6, 375.7, None, lead=(d2_lead_x, d2_lead_y, d2_lead_x2, d2_lead_y2))


# =============================== layout ===============================
def hrow(*charts):
    return alt.hconcat(*charts, spacing=0, bounds="flush").resolve_scale(color="independent", size="independent")


def vcol(*charts):
    return alt.vconcat(*charts, spacing=0, bounds="flush").resolve_scale(color="independent", size="independent")


colD = vcol(sp(1, 21), D1, sp(1, 101), D2)
rowA = hrow(sp(41.5, 1), A1, sp(95, 1), A2)
rowB = hrow(sp(41.4, 1), B1, sp(96.3, 1), B2, sp(83.9, 1), B3)
rowCD = hrow(sp(87, 1), C, sp(373.9, 1), colD)

chart = vcol(sp(1, 1), rowA, sp(1, 311), rowB, sp(1, 342), rowCD).properties(
    padding=0, background="white"
).configure(font=FONT).configure_view(stroke=None)

chart.save("out.html", embed_options={"renderer": "svg", "actions": False})
